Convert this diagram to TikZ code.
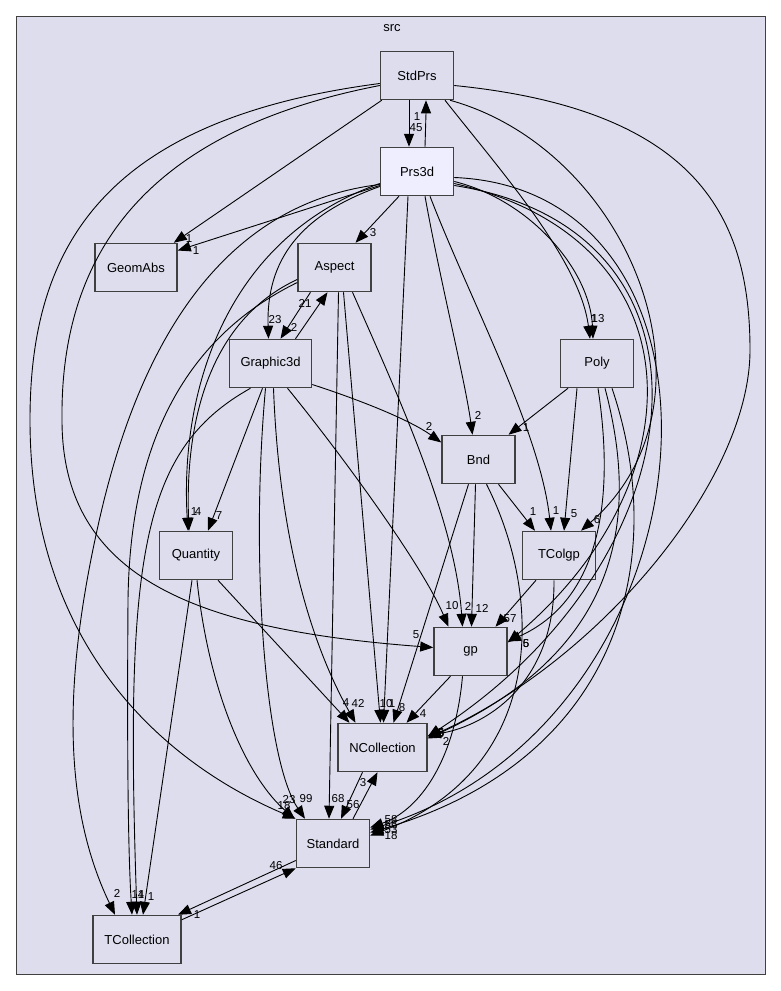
\documentclass[tikz,border=0pt]{standalone}
\usepackage{fontspec}
\setmainfont{Liberation Sans}
\usepackage{tikz}
\usetikzlibrary{arrows.meta}
\definecolor{clusterbg}{RGB}{221,221,238}
\definecolor{focusbg}{RGB}{238,238,255}
\definecolor{boxline}{RGB}{64,64,64}

\begin{document}
\begin{tikzpicture}[x=1pt, y=-1pt, every node/.style={inner sep=0pt, font=\fontsize{13}{15}\selectfont},
  dir/.style={draw=boxline, line width=1.5pt, fill=clusterbg, minimum width=73pt, minimum height=48pt},
  lbl/.style={font=\fontsize{11.5}{13}\selectfont},
  dep/.style={-{Triangle[length=13pt, width=10pt]}, line width=0.9pt}]
\useasboundingbox (0,0) rectangle (781,991);
\draw[boxline, fill=clusterbg, line width=1pt] (16,16) rectangle (765,974);
\node (src) at (392,28) {src};

\node[dir] (stdprs) at (417,75.5) {StdPrs};
\node[dir, fill=focusbg] (prs3d) at (417,171.5) {Prs3d};
\node[dir, minimum width=82pt] (geomabs) at (136,267.5) {GeomAbs};
\node[dir] (aspect) at (334.5,267.5) {Aspect};
\node[dir, minimum width=82pt] (graphic3d) at (270.5,363.5) {Graphic3d};
\node[dir] (poly) at (597,363.5) {Poly};
\node[dir] (bnd) at (478.5,459.5) {Bnd};
\node[dir] (quantity) at (196,555.5) {Quantity};
\node[dir] (tcolgp) at (559,555.5) {TColgp};
\node[dir] (gp) at (470.5,651.5) {gp};
\node[dir, minimum width=89pt] (ncollection) at (382.5,747.5) {NCollection};
\node[dir] (standard) at (333,843.5) {Standard};
\node[dir, minimum width=88pt] (tcollection) at (137,939.5) {TCollection};

\draw[dep] ([xshift=-8pt]stdprs.south) -- ([xshift=-8pt]prs3d.north) node[lbl] at (416,128) {45};
\draw[dep] ([xshift=8pt]prs3d.north) .. controls (426,130) .. ([xshift=9pt]stdprs.south) node[lbl] at (417,117) {1};
\draw[dep] ([xshift=2pt]stdprs.south west) -- ([xshift=-4pt]geomabs.north east) node[lbl] at (189,239) {1};
\draw[dep] ([yshift=-14pt]prs3d.west) -- ([yshift=17pt]geomabs.east) node[lbl] at (196,251) {1};
\draw[dep] ([xshift=-18pt]prs3d.south) -- ([xshift=21pt]aspect.north) node[lbl] at (373,233) {3};
\draw[dep] ([yshift=-15pt]prs3d.west) .. controls (300,215) and (266,260) .. ([xshift=-2pt]graphic3d.north) node[lbl] at (275,320) {23};
\draw[dep] ([xshift=-24pt]aspect.south) -- ([xshift=10pt]graphic3d.north) node[lbl] at (294,327) {2};
\draw[dep] ([xshift=25pt]graphic3d.north) -- ([xshift=-7pt]aspect.south) node[lbl] at (305,303) {21};

\draw[dep] ([xshift=28pt]stdprs.south) .. controls (500,170) and (580,260) .. ([xshift=-7pt]poly.north) node[lbl] at (594,319) {1};
\draw[dep] ([yshift=-10pt]prs3d.east) .. controls (530,200) and (590,270) .. ([xshift=-4pt]poly.north) node[lbl] at (598,319) {13};

\draw[dep] ([yshift=-21pt]graphic3d.east) .. controls (360,400) and (410,420) .. ([yshift=17pt]bnd.west) node[lbl] at (429,426) {2};
\draw[dep] ([xshift=8pt]prs3d.south) .. controls (440,280) and (465,380) .. ([xshift=-6pt]bnd.north) node[lbl] at (478,415) {2};
\draw[dep] ([xshift=-29pt]poly.south) -- ([xshift=30pt]bnd.north) node[lbl] at (526,428) {1};

\draw[dep] ([xshift=20pt]bnd.south) -- ([xshift=-24pt]tcolgp.north) node[lbl] at (533,512) {1};
\draw[dep] ([xshift=13pt]prs3d.south) .. controls (470,300) and (540,430) .. ([xshift=-8pt]tcolgp.north) node[lbl] at (556,511) {1};
\draw[dep] ([xshift=-20pt]poly.south) -- ([xshift=5pt]tcolgp.north) node[lbl] at (574,514) {5};
\draw[dep] ([xshift=33pt]stdprs.south) .. controls (630,150) and (730,400) .. ([xshift=22pt]tcolgp.north) node[lbl] at (597,520) {6};

\draw[dep] ([yshift=-12pt]prs3d.west) .. controls (220,240) and (180,400) .. ([xshift=-8pt]quantity.north) node[lbl] at (194,512) {1};
\draw[dep] ([yshift=-12pt]aspect.west) .. controls (210,320) and (185,420) .. ([xshift=-7pt]quantity.north) node[lbl] at (198,512) {4};
\draw[dep] ([xshift=-8pt]graphic3d.south) -- ([xshift=12pt]quantity.north) node[lbl] at (219,516) {7};

\draw[dep] ([yshift=-13pt]prs3d.west) .. controls (250,200) and (150,300) .. (100,517) .. controls (65,670) and (60,800) .. ([xshift=-22pt]tcollection.north) node[lbl] at (117,893) {2};
\draw[dep] ([yshift=-15pt]aspect.west) .. controls (180,340) and (130,450) .. (128,600) .. controls (127,750) and (128,850) .. ([xshift=-5pt]tcollection.north) node[lbl] at (138,895) {14};
\draw[dep] ([xshift=-20pt]graphic3d.south) .. controls (140,450) and (125,560) .. (tcollection.north) node[lbl] at (141,895) {1};
\draw[dep] ([xshift=-4pt]quantity.south) -- ([xshift=6pt]tcollection.north) node[lbl] at (151,897) {1};

\draw[dep] ([xshift=9pt]aspect.south) -- ([xshift=-2pt]ncollection.north) node[lbl] at (386,704) {10};
\draw[dep] ([xshift=-9pt]prs3d.south) -- ([xshift=1pt]ncollection.north) node[lbl] at (392,704) {1};
\draw[dep] ([xshift=-10pt]bnd.south) -- ([xshift=11pt]ncollection.north) node[lbl] at (402,708) {8};
\draw[dep] ([xshift=-20pt]gp.south) -- ([xshift=24pt]ncollection.north) node[lbl] at (423,714) {4};
\draw[dep] ([xshift=3pt]graphic3d.south) .. controls (280,560) and (320,660) .. ([xshift=-27pt]ncollection.north) node[lbl] at (358,703) {42};
\draw[dep] ([xshift=22pt]quantity.south) -- ([xshift=-33pt]ncollection.north) node[lbl] at (346,703) {4};

\draw[dep] ([xshift=18pt]aspect.south) .. controls (400,400) and (455,520) .. ([xshift=-8pt]gp.north) node[lbl] at (468,606) {2};
\draw[dep] ([xshift=17pt]graphic3d.south) .. controls (330,440) and (420,560) .. ([xshift=-22pt]gp.north) node[lbl] at (452,606) {10};
\draw[dep] ([xshift=-3pt]bnd.south) -- ([xshift=1pt]gp.north) node[lbl] at (482,608) {12};
\draw[dep] ([xshift=-23pt]tcolgp.south) -- ([xshift=25pt]gp.north) node[lbl] at (510,619) {57};
\draw[dep] ([yshift=-10pt]stdprs.west) .. controls (150,130) and (60,250) .. (62,420) .. controls (62,580) and (200,630) .. ([yshift=4pt]gp.west) node[lbl] at (416,635) {5};
\draw[dep] ([xshift=1pt]poly.south) .. controls (615,500) and (600,600) .. ([yshift=10pt]gp.east) node[lbl] at (526,644) {6};
\draw[dep] ([yshift=-12pt]prs3d.east) .. controls (700,240) and (700,480) .. ([yshift=9pt]gp.east) node[lbl] at (526,644) {5};

\draw[dep] ([yshift=-10pt]stdprs.east) .. controls (700,110) and (750,220) .. (750,350) .. controls (750,480) and (600,660) .. ([yshift=10pt]ncollection.east) node[lbl] at (441,733) {5};
\draw[dep] ([yshift=-14pt]prs3d.east) .. controls (740,230) and (700,560) .. ([yshift=11pt]ncollection.east) node[lbl] at (441,734) {6};
\draw[dep] ([xshift=8pt]poly.south) .. controls (640,520) and (620,650) .. ([yshift=9pt]ncollection.east) node[lbl] at (446,741) {2};
\draw[dep] ([xshift=-5pt]tcolgp.south) .. controls (555,680) and (490,725) .. ([yshift=12pt]ncollection.east) node[lbl] at (441,733) {6};

\draw[dep] ([yshift=-8pt]stdprs.west) .. controls (100,120) and (30,250) .. (30,420) .. controls (30,660) and (180,770) .. (standard.north west) node[lbl] at (284,806) {18};
\draw[dep] ([xshift=1pt]quantity.south) .. controls (210,700) and (250,780) .. ([xshift=-1pt]standard.north west) node[lbl] at (289,800) {23};
\draw[dep] ([xshift=-5pt]graphic3d.south) .. controls (250,560) and (265,760) .. ([xshift=-28pt]standard.north) node[lbl] at (306,799) {99};
\draw[dep] ([xshift=4pt]aspect.south) -- ([xshift=-4pt]standard.north) node[lbl] at (338,799) {68};
\draw[dep] ([xshift=-20pt]ncollection.south) -- ([xshift=8pt]standard.north) node[lbl] at (353,805) {56};
\draw[dep] ([xshift=20pt]standard.north) -- ([xshift=-5pt]ncollection.south) node[lbl] at (363,783) {3};

\draw[dep] ([yshift=-6pt]prs3d.east) .. controls (760,190) and (720,720) .. ([yshift=14pt]standard.east) node[lbl] at (391,820) {58};
\draw[dep] ([xshift=15pt]poly.south) .. controls (670,560) and (620,760) .. ([yshift=11pt]standard.east) node[lbl] at (391,825) {56};
\draw[dep] ([xshift=8pt]bnd.south) .. controls (545,600) and (545,770) .. ([yshift=8pt]standard.east) node[lbl] at (391,830) {53};
\draw[dep] ([xshift=-8pt]gp.south) .. controls (455,760) and (420,810) .. ([yshift=16pt]standard.east) node[lbl] at (391,836) {18};

\draw[dep] ([yshift=-17pt]standard.west) -- ([xshift=41pt]tcollection.north) node[lbl] at (197,915) {1};
\draw[dep] ([yshift=-5pt]tcollection.north east) -- (standard.south west) node[lbl] at (276,866) {46};
\end{tikzpicture}
\end{document}
